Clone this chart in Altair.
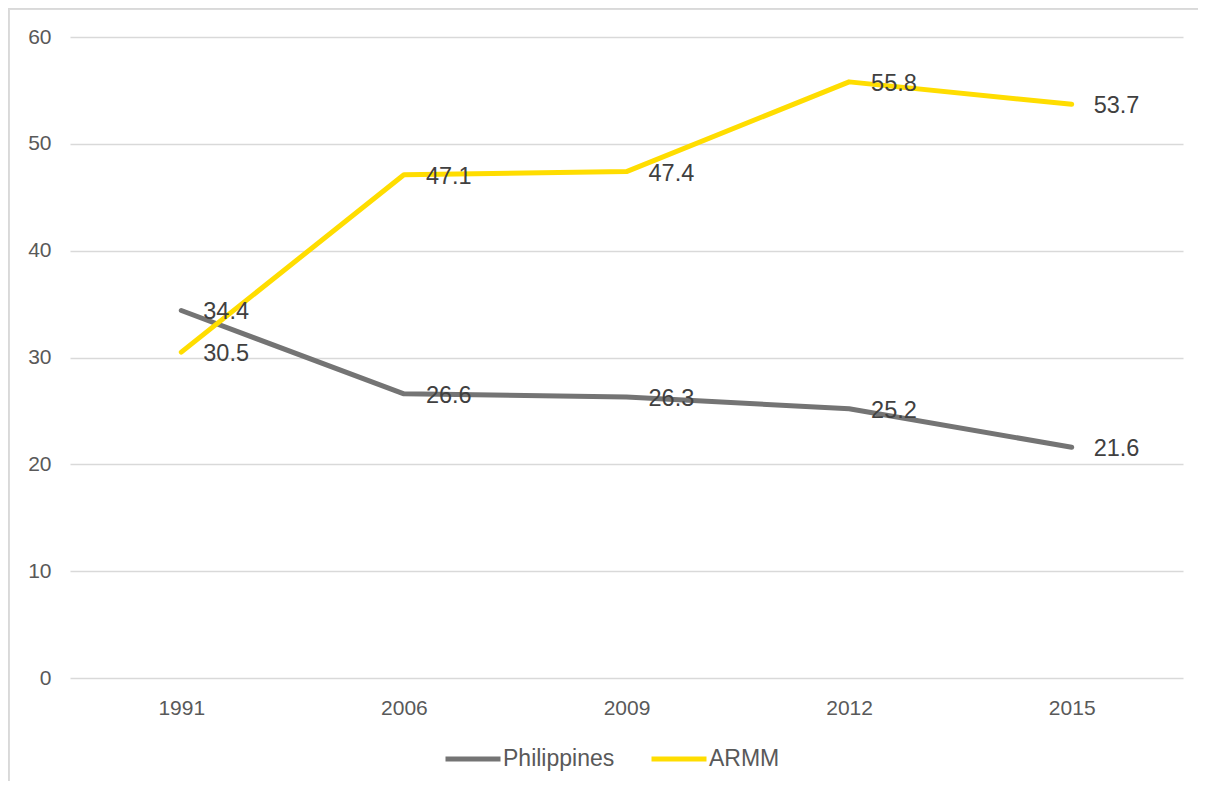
import altair as alt
import pandas as pd

years = ["1991", "2006", "2009", "2012", "2015"]
philippines = [34.4, 26.6, 26.3, 25.2, 21.6]
armm = [30.5, 47.1, 47.4, 55.8, 53.7]
series = ["Philippines", "ARMM"]
colors = ["#747474", "#FFDD00"]

rows = []
for s, vals in zip(series, [philippines, armm]):
    for y, v in zip(years, vals):
        rows.append({"year": y, "value": v, "series": s})
df = pd.DataFrame(rows)

FONT = "Liberation Sans"
W, H = 1113, 641

x = alt.X("year:N", sort=years,
          scale=alt.Scale(type="point", padding=0.5),
          axis=alt.Axis(title=None, labelAngle=0, labelFontSize=21, labelColor="#595959",
                        labelFont=FONT, labelPadding=19, ticks=False, domain=False, grid=False))
y = alt.Y("value:Q", scale=alt.Scale(domain=[0, 60], nice=False),
          axis=alt.Axis(title=None, values=[0, 10, 20, 30, 40, 50, 60], labelFontSize=21,
                        labelColor="#595959", labelFont=FONT, labelPadding=19, ticks=False,
                        domain=False, gridColor="#d9d9d9", gridWidth=1.3))
color = alt.Color("series:N", sort=series,
                  scale=alt.Scale(domain=series, range=colors),
                  legend=alt.Legend(title=None, orient="none", legendX=373, legendY=692,
                                    direction="horizontal", symbolType="stroke",
                                    symbolSize=3025, symbolStrokeWidth=5,
                                    labelFontSize=23, labelColor="#595959", labelFont=FONT,
                                    labelOffset=0, columnPadding=26))

lines = alt.Chart(df).mark_line(strokeWidth=5, strokeCap="round", strokeJoin="round").encode(
    x=x, y=y, color=color)

labels = alt.Chart(df).mark_text(align="left", baseline="middle", dx=22, dy=2,
                                 fontSize=23.5, font=FONT, color="#404040").encode(
    x=alt.X("year:N", sort=years), y="value:Q", text=alt.Text("value:Q", format=".1f"))

border_left = alt.Chart(df).mark_rule(color="#d9d9d9", strokeWidth=1.5).encode(
    x=alt.value(-61.5), y=alt.value(-29), y2=alt.value(H + 110))
border_top = alt.Chart(df).mark_rule(color="#d9d9d9", strokeWidth=1.5).encode(
    x=alt.value(-62), x2=alt.value(W + 20), y=alt.value(-28.5))

chart = alt.layer(border_left, border_top, lines, labels).properties(
    width=W, height=H,
    autosize=alt.AutoSizeParams(type="none"),
    padding={"left": 62, "top": 29, "right": 15, "bottom": 103},
).configure_view(stroke=None)

chart.save("out.html", embed_options={"renderer": "svg", "actions": False})
